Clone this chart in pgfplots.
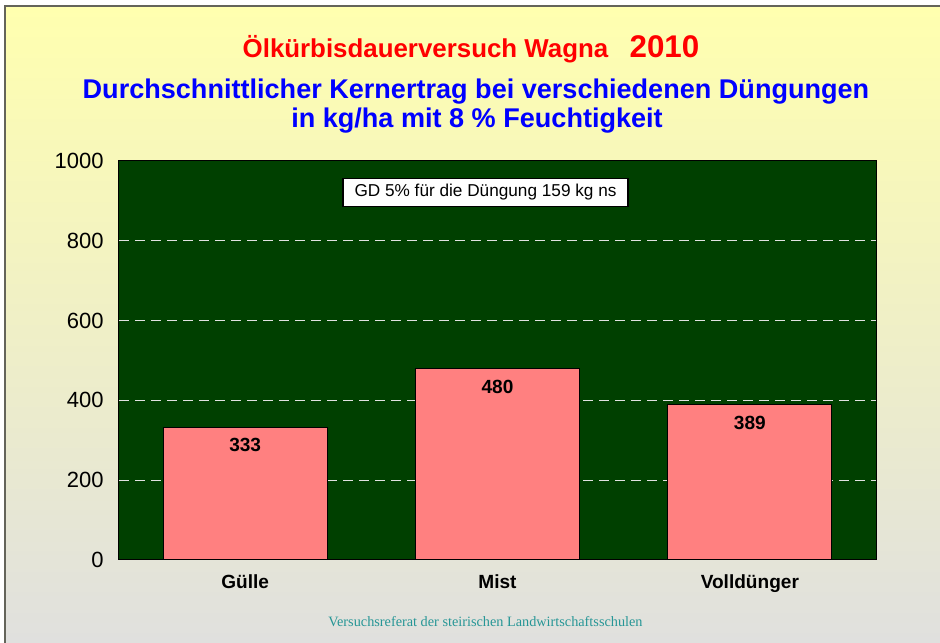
\documentclass[border=0pt]{standalone}
\usepackage{fontspec}
\setmainfont{Liberation Sans}
\newfontfamily\seriffont{Liberation Serif}
\usepackage{pgfplots}
\pgfplotsset{compat=1.18}
\definecolor{bgtop}{RGB}{255,255,175}
\definecolor{bgbot}{RGB}{224,224,222}
\definecolor{plotgreen}{RGB}{0,64,0}
\definecolor{barpink}{RGB}{255,128,128}
\definecolor{titlered}{RGB}{255,0,0}
\definecolor{titleblue}{RGB}{0,0,255}
\definecolor{footteal}{RGB}{38,150,150}
\definecolor{framegray}{RGB}{100,100,90}
\definecolor{gridwhite}{RGB}{225,225,225}
\begin{document}
\begin{tikzpicture}[x=0.75pt,y=0.75pt]
\useasboundingbox (0,0) rectangle (940,643);
\fill[white] (0,0) rectangle (940,643);
\shade[top color=bgtop, bottom color=bgbot] (5,0) rectangle (940,637);
\draw[framegray, line width=1.5pt] (5,0) -- (5,637) -- (940,637);
\node[anchor=base, text=titlered, font=\fontsize{19.4}{23}\selectfont\bfseries, inner sep=0pt] at (471,585) {Ölkürbisdauerversuch Wagna\hspace{16pt}{\fontsize{23.5}{28}\selectfont 2010}};
\node[anchor=base, text=titleblue, font=\fontsize{20.3}{24}\selectfont\bfseries, inner sep=0pt] at (476,544) {Durchschnittlicher Kernertrag bei verschiedenen Düngungen};
\node[anchor=base, text=titleblue, font=\fontsize{20.3}{24}\selectfont\bfseries, inner sep=0pt] at (477,515) {in kg/ha mit 8 \% Feuchtigkeit};
\node[anchor=base, text=footteal, font=\fontsize{10.7}{13}\selectfont\seriffont, inner sep=0pt] at (485.5,16) {Versuchsreferat der steirischen Landwirtschaftsschulen};
\begin{axis}[
  at={(89.25pt,62.25pt)}, anchor=south west,
  scale only axis, width=567.75pt, height=299.25pt,
  xmin=-0.5, xmax=2.5, ymin=0, ymax=1000,
  axis background/.style={fill=plotgreen},
  ybar, bar width=123pt,
  xtick={0,1,2}, xticklabels={Gülle,Mist,Volldünger},
  ytick={0,200,400,600,800,1000},
  ymajorgrids,
  major grid style={gridwhite, dash pattern=on 7.5pt off 4.5pt, line width=0.75pt},
  major tick length=0pt,
  axis line style={black, line width=0.75pt},
  /pgf/number format/assume math mode=true,
  /pgf/number format/1000 sep={},
  yticklabel style={font=\fontsize{16.5}{19}\selectfont, xshift=-8pt},
  xticklabel style={font=\fontsize{14.3}{17}\selectfont\bfseries, yshift=-7.5pt},
  nodes near coords,
  nodes near coords style={anchor=north, inner sep=0pt, yshift=-8.25pt, text=black, font=\fontsize{14.3}{17}\selectfont\bfseries},
]
\addplot[fill=barpink, draw=black, line width=0.75pt] coordinates {(0,333) (1,480) (2,389)};
\node[draw=black, fill=white, line width=0.8pt, minimum width=213.75pt, minimum height=21pt, inner sep=0pt, font=\fontsize{12.9}{15}\selectfont] at (axis cs:0.9525,922) {GD 5\% für die Düngung 159 kg ns};
\end{axis}
\end{tikzpicture}
\end{document}
